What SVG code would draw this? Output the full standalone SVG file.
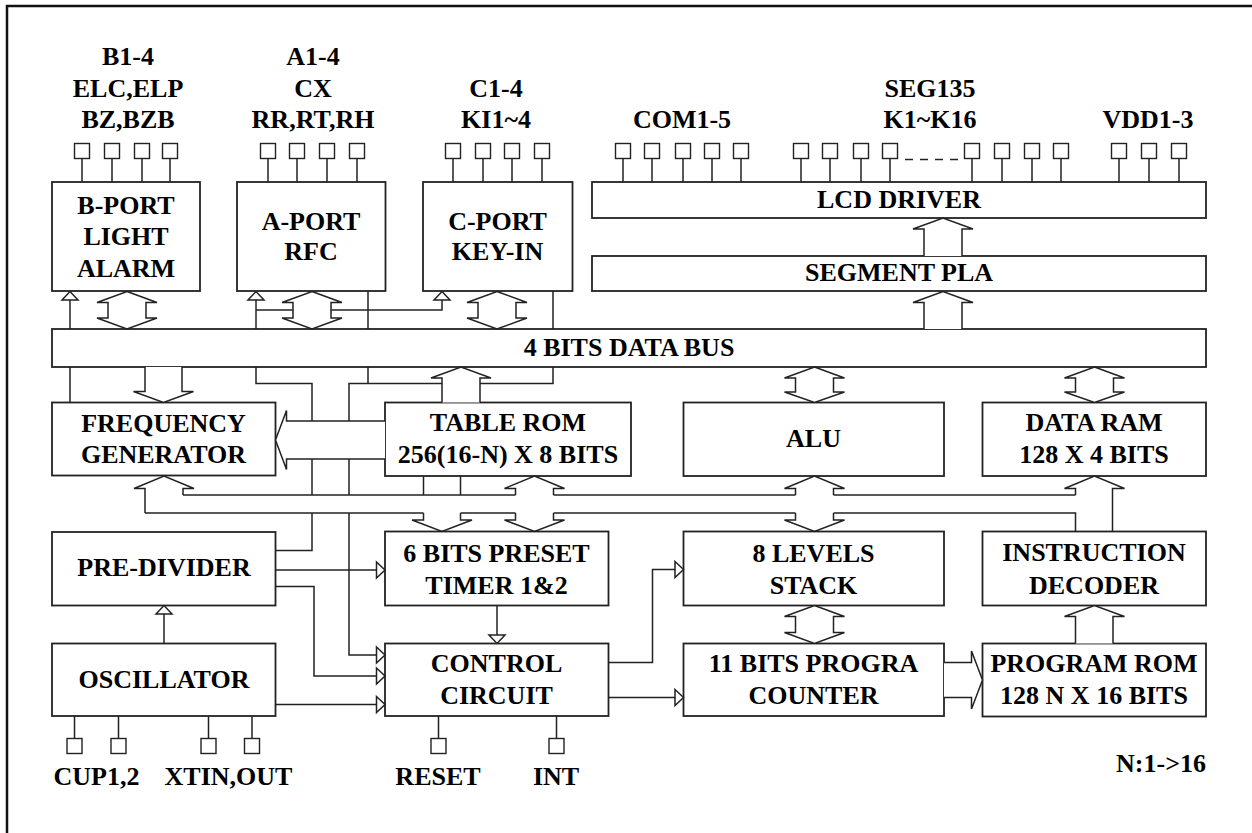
<svg xmlns="http://www.w3.org/2000/svg" width="1252" height="833" viewBox="0 0 1252 833">
<style>
.bx{fill:#fff;stroke:#222;stroke-width:1.8}
.ln{fill:none;stroke:#222;stroke-width:1.5}
.ar{fill:#fff;stroke:#222;stroke-width:1.5;stroke-linejoin:miter}
.ao{fill:none;stroke:#222;stroke-width:1.5}
.pin{fill:#fff;stroke:#222;stroke-width:1.4}
.tri{marker-end:url(#tri)}
text{font-family:"Liberation Serif","Times New Roman",serif;font-weight:bold;font-size:26px;text-anchor:middle;fill:#000}
</style>
<defs>
<marker id="tri" markerUnits="userSpaceOnUse" viewBox="-10 -10 12 20" markerWidth="12" markerHeight="20" refX="0" refY="0" orient="auto" overflow="visible">
<path d="M-8.5,-8 L0,0 L-8.5,8 Z" fill="#fff" stroke="#222" stroke-width="1.5"/>
</marker>
</defs>
<rect width="1252" height="833" fill="#fff"/>
<rect x="7" y="6" width="1300" height="900" fill="none" stroke="#111" stroke-width="2.5"/>

<g id="bport">
<path class="ln" d="M82,158.5V182M112,158.5V182M142,158.5V182M170,158.5V182"/>
<rect class="pin" x="74.5" y="143.5" width="15" height="15"/><rect class="pin" x="104.5" y="143.5" width="15" height="15"/><rect class="pin" x="134.5" y="143.5" width="15" height="15"/><rect class="pin" x="162.5" y="143.5" width="15" height="15"/>
<text x="128" y="65">B1-4</text><text x="128" y="96.5">ELC,ELP</text><text x="128" y="128">BZ,BZB</text>
<rect class="bx" x="52" y="182" width="148" height="109"/>
<text x="126" y="213.5">B-PORT</text><text x="126" y="245">LIGHT</text><text x="126" y="276.5">ALARM</text>
</g>

<g id="aport">
<path class="ln" d="M268,158.5V182M297,158.5V182M327,158.5V182M357,158.5V182"/>
<rect class="pin" x="260.5" y="143.5" width="15" height="15"/><rect class="pin" x="289.5" y="143.5" width="15" height="15"/><rect class="pin" x="319.5" y="143.5" width="15" height="15"/><rect class="pin" x="349.5" y="143.5" width="15" height="15"/>
<text x="313" y="65">A1-4</text><text x="313" y="96.5">CX</text><text x="313" y="128">RR,RT,RH</text>
<rect class="bx" x="237" y="182" width="148.5" height="109"/>
<text x="311" y="230">A-PORT</text><text x="311" y="260">RFC</text>
</g>

<g id="cport">
<path class="ln" d="M453,158.5V182M483,158.5V182M512,158.5V182M542,158.5V182"/>
<rect class="pin" x="445.5" y="143.5" width="15" height="15"/><rect class="pin" x="475.5" y="143.5" width="15" height="15"/><rect class="pin" x="504.5" y="143.5" width="15" height="15"/><rect class="pin" x="534.5" y="143.5" width="15" height="15"/>
<text x="496" y="96.5">C1-4</text><text x="496" y="128">KI1~4</text>
<rect class="bx" x="423" y="182" width="149.5" height="109"/>
<text x="497.5" y="230">C-PORT</text><text x="497.5" y="260">KEY-IN</text>
</g>

<g id="lcd">
<path class="ln" d="M623,158.5V182M652,158.5V182M683,158.5V182M712,158.5V182M741,158.5V182M801,158.5V182M830,158.5V182M861,158.5V182M890,158.5V182M972,158.5V182M1002,158.5V182M1032,158.5V182M1061,158.5V182M1119,158.5V182M1149,158.5V182M1179,158.5V182"/>
<path class="ln" d="M905,159.5H958" stroke-dasharray="8 7"/>
<rect class="pin" x="615.5" y="143.5" width="15" height="15"/><rect class="pin" x="644.5" y="143.5" width="15" height="15"/><rect class="pin" x="675.5" y="143.5" width="15" height="15"/><rect class="pin" x="704.5" y="143.5" width="15" height="15"/><rect class="pin" x="733.5" y="143.5" width="15" height="15"/>
<rect class="pin" x="793.5" y="143.5" width="15" height="15"/><rect class="pin" x="822.5" y="143.5" width="15" height="15"/><rect class="pin" x="853.5" y="143.5" width="15" height="15"/><rect class="pin" x="882.5" y="143.5" width="15" height="15"/>
<rect class="pin" x="964.5" y="143.5" width="15" height="15"/><rect class="pin" x="994.5" y="143.5" width="15" height="15"/><rect class="pin" x="1024.5" y="143.5" width="15" height="15"/><rect class="pin" x="1053.5" y="143.5" width="15" height="15"/>
<rect class="pin" x="1111.5" y="143.5" width="15" height="15"/><rect class="pin" x="1141.5" y="143.5" width="15" height="15"/><rect class="pin" x="1171.5" y="143.5" width="15" height="15"/>
<text x="682" y="128">COM1-5</text><text x="930" y="96.5">SEG135</text><text x="930" y="128">K1~K16</text><text x="1148" y="128">VDD1-3</text>
<rect class="bx" x="592" y="182" width="614" height="36"/>
<text x="899" y="208">LCD DRIVER</text>
</g>

<g id="segpla"><rect class="bx" x="592" y="256" width="614" height="35"/><text x="899" y="281">SEGMENT PLA</text></g>
<g id="bus"><rect class="bx" x="52" y="329" width="1154" height="38"/><text x="629" y="356">4 BITS DATA BUS</text></g>
<g id="freq"><rect class="bx" x="52" y="402.5" width="223.5" height="73"/><text x="163.5" y="432">FREQUENCY</text><text x="163.5" y="463">GENERATOR</text></g>
<g id="tablerom"><rect class="bx" x="385" y="402.5" width="246" height="73.5"/><text x="508" y="431">TABLE ROM</text><text x="508" y="462.5">256(16-N) X 8 BITS</text></g>
<g id="alu"><rect class="bx" x="683.5" y="402.5" width="260.5" height="73.5"/><text x="813.5" y="446.5">ALU</text></g>
<g id="dataram"><rect class="bx" x="982.5" y="402.5" width="223.5" height="73.5"/><text x="1094" y="431">DATA RAM</text><text x="1094" y="462.5">128 X 4 BITS</text></g>
<g id="predivider"><rect class="bx" x="52" y="532" width="223.5" height="73.5"/><text x="164" y="576">PRE-DIVIDER</text></g>
<g id="timer"><rect class="bx" x="385" y="531.5" width="223.5" height="74"/><text x="496.5" y="561.5">6 BITS PRESET</text><text x="496.5" y="593.5">TIMER 1&amp;2</text></g>
<g id="stack"><rect class="bx" x="683.5" y="531.5" width="260.5" height="74"/><text x="813.5" y="561.5">8 LEVELS</text><text x="813.5" y="593.5">STACK</text></g>
<g id="decoder"><rect class="bx" x="982.5" y="531.5" width="223.5" height="74"/><text x="1094" y="561">INSTRUCTION</text><text x="1094" y="593.5">DECODER</text></g>

<g id="oscillator">
<path class="ln" d="M74.5,716V738.5M118.5,716V738.5M208.5,716V738.5M252,716V738.5"/>
<rect class="pin" x="67" y="738.5" width="15" height="15"/><rect class="pin" x="111" y="738.5" width="15" height="15"/><rect class="pin" x="201" y="738.5" width="15" height="15"/><rect class="pin" x="244.5" y="738.5" width="15" height="15"/>
<text x="96.5" y="784.5">CUP1,2</text><text x="228.5" y="784.5">XTIN,OUT</text>
<rect class="bx" x="52" y="643.5" width="223.5" height="72.5"/><text x="164" y="687.5">OSCILLATOR</text>
</g>
<g id="control">
<path class="ln" d="M438.5,716V738.5M556.5,716V738.5"/>
<rect class="pin" x="431" y="738.5" width="15" height="15"/><rect class="pin" x="549" y="738.5" width="15" height="15"/>
<text x="438" y="785">RESET</text><text x="556" y="785">INT</text>
<rect class="bx" x="385" y="643.5" width="223.5" height="72.5"/><text x="496.5" y="671.5">CONTROL</text><text x="496.5" y="703.5">CIRCUIT</text>
</g>
<g id="counter"><rect class="bx" x="683.5" y="643.5" width="260.5" height="72.5"/><text x="813.5" y="671.5">11 BITS PROGRA</text><text x="813.5" y="703.5">COUNTER</text></g>
<g id="progrom"><rect class="bx" x="982.5" y="643.5" width="223.5" height="73"/><text x="1094" y="671.5">PROGRAM ROM</text><text x="1094" y="703.5">128 N X 16 BITS</text></g>
<g id="note"><text x="1206" y="771.5" style="text-anchor:end">N:1-&gt;16</text></g>

<g id="connectors">
<path class="ln" d="M70,367V402.5M368,291V329M553,291V329M256,310H293M256,367V383.5H312V421M368,367V383.5M349,421V383.5H442M480,383.5H553V367"/>
<path class="ln tri" d="M70,329V291.5"/>
<path class="ln tri" d="M256,329V291.5"/>
<path class="ln tri" d="M331,310H442V291.5"/>
<path class="ln" d="M312,459V495M349,459V495M423.5,476V495M460.5,476V495"/>
<path class="ln" d="M183,495H515.5M553.5,495H795.5M833.5,495H1075.5"/>
<path class="ln" d="M145,513H423.5M460.5,513H515.5M553.5,513H795.5M833.5,513H1075.5V531.5"/>
<path class="ln" d="M312,513V550.5H275.5"/>
<path class="ln tri" d="M349,513V655H385"/>
<path class="ln tri" d="M275.5,570H385"/>
<path class="ln tri" d="M275.5,586.5H314V676H385"/>
<path class="ln tri" d="M275.5,704.5H385"/>
<path class="ln tri" d="M164,643.5V605.5"/>
<path class="ln tri" d="M497,605.5V643.5"/>
<path class="ln tri" d="M608.5,662.5H652.5V569.5H683.5"/>
<path class="ln tri" d="M608.5,697.5H683.5"/>

<path class="ar" d="M924,256V229H913L943,218L973,229H962V256"/>
<path class="ar" d="M924,329V302.5H913L943,291.5L973,302.5H962V329"/>
<path class="ar" d="M127,291.5L157,302.5H146V318H157L127,329L97,318H108V302.5H97Z"/>
<path class="ar" d="M312,291.5L342,302.5H331V318H342L312,329L282,318H293V302.5H282Z"/>
<path class="ar" d="M497,291.5L527,302.5H516V318H527L497,329L467,318H478V302.5H467Z"/>
<path class="ar" d="M145,367V391.5H133.5L163.5,402.5L193.5,391.5H182V367"/>
<path class="ar" d="M442,402.5V378H431L461,367L491,378H480V402.5"/>
<path class="ar" d="M814.5,367L844.5,378H833.5V392H844.5L814.5,402.5L784.5,392H795.5V378H784.5Z"/>
<path class="ar" d="M1094.5,367L1124.5,378H1113.5V392H1124.5L1094.5,402.5L1064.5,392H1075.5V378H1064.5Z"/>
<path class="ar" d="M385,421H286.5V410.5L275.5,440L286.5,469.5V459H385"/>
<path class="ao" d="M145,513V488.5H134L164,476L194,488.5H183V495"/>
<path class="ao" d="M515.5,495V488.5H504.5L534.5,476L564.5,488.5H553.5V495"/>
<path class="ao" d="M795.5,495V488.5H784.5L814.5,476L844.5,488.5H833.5V495"/>
<path class="ao" d="M1075.5,495V488.5H1064.5L1094.5,476L1124.5,488.5H1112.5V531.5"/>
<path class="ao" d="M423.5,513V520H412L442,531.5L472,520H460.5V513"/>
<path class="ao" d="M515.5,513V520H504.5L534.5,531.5L564.5,520H553.5V513"/>
<path class="ao" d="M795.5,513V520H784.5L814.5,531.5L844.5,520H833.5V513"/>
<path class="ar" d="M814.5,605.5L844.5,616.5H833.5V632.5H844.5L814.5,643.5L784.5,632.5H795.5V616.5H784.5Z"/>
<path class="ar" d="M944,662.5H971.5V651L982.5,680L971.5,709V697.5H944"/>
<path class="ar" d="M1075.5,643.5V616.5H1064.5L1094.5,605.5L1124.5,616.5H1113V643.5"/>
</g>
</svg>
